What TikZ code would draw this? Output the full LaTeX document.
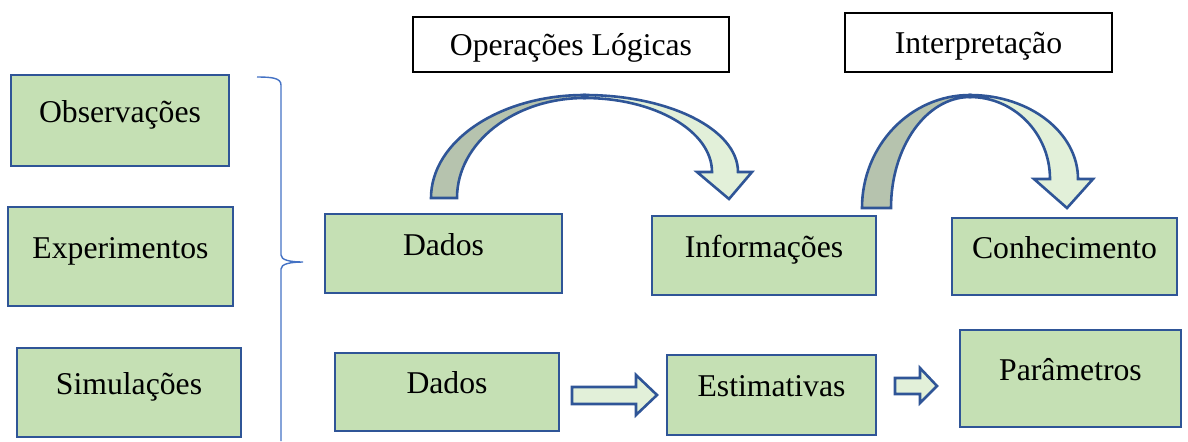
\documentclass[tikz,border=0pt]{standalone}
\usepackage{fontspec}
\setmainfont{Liberation Serif}
\definecolor{boxfill}{HTML}{C5E0B4}
\definecolor{boxdraw}{HTML}{2F5597}
\definecolor{arlight}{HTML}{E2F0D9}
\definecolor{ardark}{HTML}{B6C3AE}
\definecolor{bracecol}{HTML}{4472C4}
\begin{document}
\begin{tikzpicture}[x=0.5pt,y=-0.5pt,
  every node/.style={font=\fontsize{15.85pt}{19pt}\selectfont, inner sep=0pt},
  gbox/.style={draw=boxdraw, line width=1pt, fill=boxfill, text height=12pt, text depth=10.5pt},
  wbox/.style={draw=black, line width=0.8pt, fill=white, text height=13pt, text depth=2pt},
  shade/.style={draw=boxdraw, line width=1.3pt, fill=ardark},
  lightar/.style={draw=boxdraw, line width=1.3pt, fill=arlight},
  bracel/.style={draw=bracecol, line width=0.7pt}]
\useasboundingbox (0,0) rectangle (1188,441);

% left column
\node[gbox, minimum width=109pt, minimum height=45.5pt] (obs) at (120,120.5) {Observações};
\node[gbox, minimum width=112.5pt, minimum height=49.5pt] (exp) at (120.5,256.5) {Experimentos};
\node[gbox, minimum width=112pt, minimum height=44.5pt] (sim) at (129,392.5) {Simulações};

% brace
\coordinate (bt) at (257,77);
\coordinate (btip) at (303,262);
\coordinate (bb) at (281,441);
\draw[bracel] (bt) .. controls (272,77) and (281,78) .. (281,85) -- (281,255)
  .. controls (281,260) and (290,262) .. (btip)
  .. controls (290,262) and (281,264) .. (281,269) -- (bb);

% top row
\node[gbox, minimum width=118.5pt, minimum height=39.5pt] (dados1) at (443.5,253.5) {Dados};
\node[gbox, minimum width=112pt, minimum height=39.5pt] (info) at (764,255.5) {Informações};
\node[gbox, minimum width=112.5pt, minimum height=38.5pt] (conh) at (1064.5,256.5) {Conhecimento};

% bottom row
\node[gbox, minimum width=112pt, minimum height=39pt] (dados2) at (447,392) {Dados};
\node[gbox, minimum width=104.5pt, minimum height=40pt] (est) at (771.5,395) {Estimativas};
\node[gbox, minimum width=110.5pt, minimum height=48.5pt] (par) at (1070.5,378.5) {Parâmetros};

% labels
\node[wbox, minimum width=158pt, minimum height=27.5pt] (op) at (571,44.5) {Operações Lógicas};
\node[wbox, minimum width=133.5pt, minimum height=29.5pt] (interp) at (978.5,42.5) {Interpretação};

% curved arrow 1 (Dados -> Informações)
\draw[shade] (431,198) arc[start angle=180, end angle=90, x radius=76.75pt, y radius=51.5pt]
  -- (584.5,98) arc[start angle=90, end angle=180, x radius=63.75pt, y radius=50pt] -- cycle;
\draw[lightar] (584.5,95) arc[start angle=90, end angle=0, x radius=76.75pt, y radius=38.5pt]
  -- (752,172) -- (729,199) -- (697,172) -- (712,172)
  arc[start angle=0, end angle=90, x radius=63.75pt, y radius=37pt] -- cycle;

% curved arrow 2 (Informações -> Conhecimento)
\draw[shade] (862,208) arc[start angle=180, end angle=90, x radius=54pt, y radius=56.5pt]
  -- (970,97) arc[start angle=90, end angle=180, x radius=39.5pt, y radius=55.5pt] -- cycle;
\draw[lightar] (970,95) arc[start angle=90, end angle=0, x radius=54pt, y radius=42pt]
  -- (1093,179) -- (1067,208) -- (1034,179) -- (1050,179)
  arc[start angle=0, end angle=90, x radius=40pt, y radius=41pt] -- cycle;

% small block arrows
\draw[lightar] (572,387) -- (636,387) -- (636,375) -- (657,395) -- (636,415) -- (636,404) -- (572,404) -- cycle;
\draw[lightar] (895,378) -- (920,378) -- (920,368) -- (937,386) -- (920,403) -- (920,394) -- (895,394) -- cycle;
\end{tikzpicture}
\end{document}
